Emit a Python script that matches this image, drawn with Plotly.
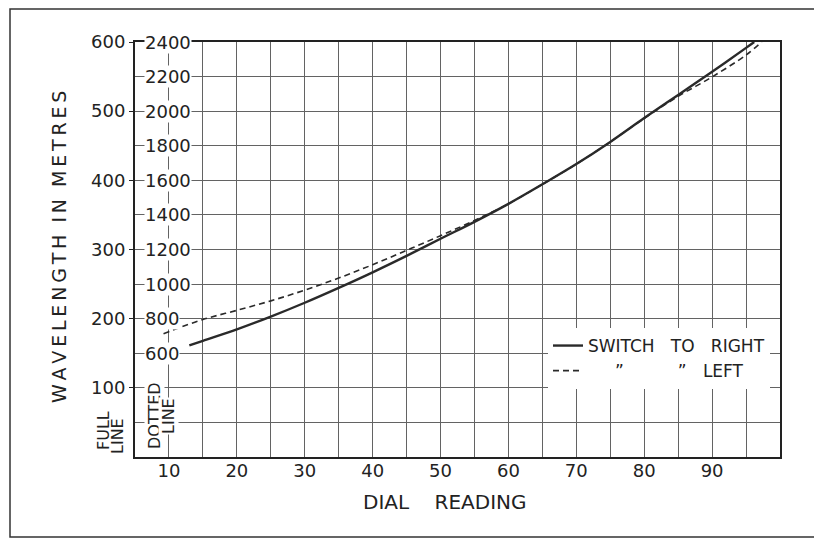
import plotly.graph_objects as go

# ---- data ----
dial_right = [13, 15, 20, 25, 30, 35, 40, 45, 50, 55, 60, 65, 70, 75, 80, 85, 90, 95, 96.2]
wave_right = [645, 672, 738, 812, 892, 978, 1068, 1163, 1262, 1360, 1464, 1577, 1694, 1822, 1960, 2094, 2228, 2366, 2400]

dial_left = [9.2, 15, 20, 25, 30, 35, 40, 45, 50, 55, 60, 65, 70, 75, 80, 85, 90, 95, 97.3]
wave_left = [713, 795, 848, 903, 965, 1035, 1112, 1195, 1280, 1368, 1464, 1577, 1694, 1822, 1958, 2086, 2198, 2325, 2400]

x_ticks = [10, 20, 30, 40, 50, 60, 70, 80, 90]
x_grid = list(range(10, 100, 5))
dotted_ticks = [600, 800, 1000, 1200, 1400, 1600, 1800, 2000, 2200, 2400]
full_ticks = [100, 200, 300, 400, 500, 600]

FONT = "DejaVu Sans"
INK = "#222222"
GRID = "#636363"

# page body has an 8px margin: plot area sits at 135..780 x 42..457 on screen
OFF = 8
L, R, T, B = 135, 780, 42, 457
W, H = 822, 541


def px(sx):
    return (sx - L) / (R - L)


def py(sy):
    return (B - sy) / (B - T)


NB = "\u00a0"
fig = go.Figure()
fig.add_trace(go.Scatter(
    x=dial_right, y=wave_right, mode="lines", name="SWITCH" + NB * 3 + "TO" + NB * 3 + "RIGHT",
    line=dict(color="#2a2a2a", width=2.4, shape="spline", smoothing=1.0)))
fig.add_trace(go.Scatter(
    x=dial_left, y=wave_left, mode="lines",
    name=NB * 5 + "\u201d" + NB * 10 + "\u201d" + NB * 3 + "LEFT",
    line=dict(color="#2a2a2a", width=1.6, dash="6px,4px", shape="spline", smoothing=1.0)))
# anchor trace for the outer (full line) scale
fig.add_trace(go.Scatter(x=[None], y=[None], yaxis="y2", showlegend=False, hoverinfo="skip"))

ann = []
for v in dotted_ticks:
    ann.append(dict(text=str(v), xref="paper", x=px(144), xanchor="left",
                    yref="y", y=v, yanchor="middle", showarrow=False, bgcolor="white",
                    borderpad=0, font=dict(family=FONT, size=18, color=INK)))

sp = "\u2009"
title_y = "  ".join(sp.join(w) for w in ["WAVELENGTH", "IN", "METRES"])
ann.append(dict(text=title_y, textangle=-90, xref="paper", yref="paper",
                x=px(59), y=py(247), xanchor="center", yanchor="middle", showarrow=False,
                font=dict(family=FONT, size=19, color=INK)))
ann.append(dict(text="DIAL" + NB * 4 + "READING", xref="paper", yref="paper",
                x=px(445), y=py(502), xanchor="center", yanchor="middle", showarrow=False,
                font=dict(family=FONT, size=20, color=INK)))

# scale-note labels, each word rotated
notes = [("FULL", 103, 431, False), ("LINE", 117, 436, False),
         ("DOTTED", 154, 416, True), ("LINE", 168, 416, True)]
for txt, sx, sy, bg in notes:
    ann.append(dict(text=txt, textangle=-90, xref="paper", yref="paper",
                    x=px(sx), y=py(sy), xanchor="center", yanchor="middle", showarrow=False,
                    bgcolor="white" if bg else None, borderpad=0,
                    font=dict(family=FONT, size=16, color=INK)))

fig.update_layout(
    width=W, height=H,
    margin=dict(l=L - OFF, r=W - (R - OFF), t=T - OFF, b=H - (B - OFF)),
    paper_bgcolor="white", plot_bgcolor="white",
    font=dict(family=FONT, color=INK),
    xaxis=dict(range=[5, 100], tickvals=x_grid,
               ticktext=[str(v) if v in x_ticks else "" for v in x_grid],
               showgrid=True, gridcolor=GRID, gridwidth=1, zeroline=False,
               showline=True, mirror=True, linecolor=INK, linewidth=2,
               ticks="", ticklabelstandoff=-4,
               tickfont=dict(family=FONT, size=18, color=INK)),
    yaxis=dict(range=[0, 2400], dtick=200, tick0=0, showgrid=True, gridcolor=GRID,
               gridwidth=1, zeroline=False, showticklabels=False,
               showline=True, mirror=True, linecolor=INK, linewidth=2, ticks=""),
    yaxis2=dict(range=[0, 600], overlaying="y", anchor="free", position=0, side="left",
                tickvals=full_ticks, showgrid=False, zeroline=False, showline=False,
                ticks="outside", ticklen=6, tickcolor=INK, tickwidth=1,
                tickfont=dict(family=FONT, size=18, color=INK)),
    legend=dict(x=px(548), y=py(328), xanchor="left", yanchor="top",
                bgcolor="white", borderwidth=0, tracegroupgap=0,
                font=dict(family=FONT, size=17, color=INK)),
    annotations=ann,
    shapes=[dict(type="rect", xref="paper", yref="paper",
                 x0=px(10), x1=px(816), y0=py(537), y1=py(9),
                 line=dict(color="#333333", width=1.5), layer="below")],
    showlegend=True,
)

fig.write_html("out.html")
